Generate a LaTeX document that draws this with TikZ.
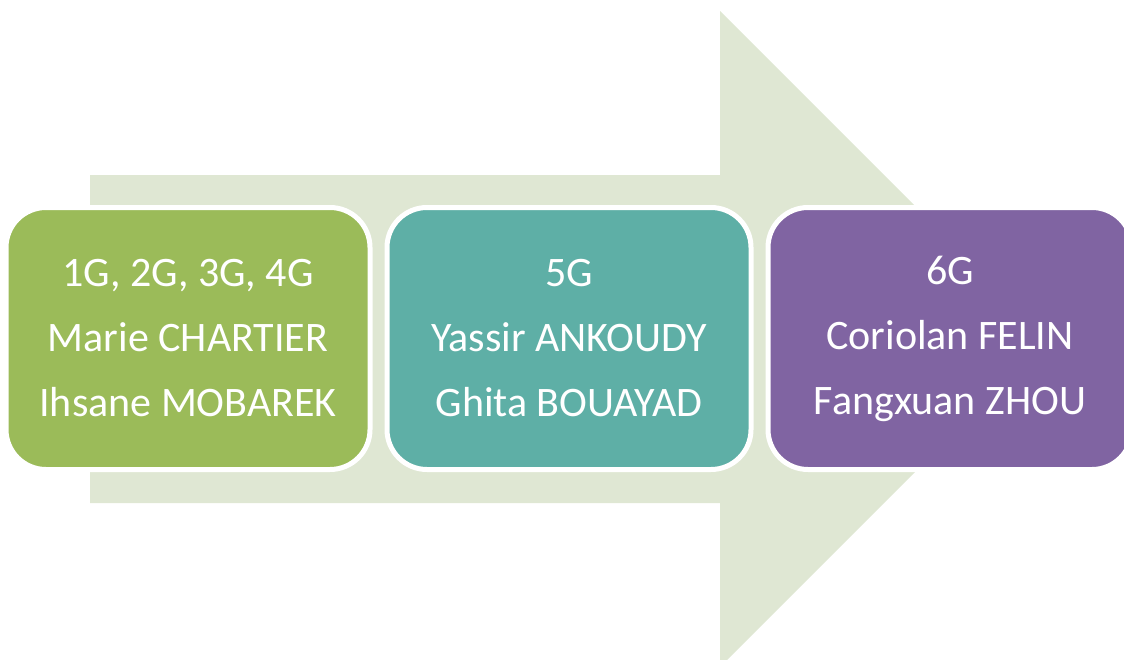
\documentclass[tikz,border=0pt]{standalone}
\usepackage{fontspec}
\setmainfont{Carlito}
\usetikzlibrary{positioning}
\definecolor{arrowbg}{HTML}{DFE7D3}
\definecolor{gengreen}{HTML}{9BBB59}
\definecolor{genteal}{HTML}{5EAFA6}
\definecolor{genpurple}{HTML}{8064A2}

\begin{document}
\begin{tikzpicture}[x=1pt, y=-1pt,
  every node/.style={font=\fontsize{42}{65}\selectfont},
  gen/.style={draw=white, line width=5pt, rounded corners=40pt, outer sep=0pt,
    minimum width=364pt, minimum height=262pt, align=center, text=white}]
\useasboundingbox (0,0) rectangle (1124,659);
\clip (0,0) rectangle (1124,659);
% background arrow
\fill[arrowbg] (90,175) -- (720,175) -- (720,11) -- (1048,339)
  -- (720,667) -- (720,503) -- (90,503) -- cycle;
\node[gen, fill=gengreen] (gen14) at (188,338.5) {1G, 2G, 3G, 4G\\Marie CHARTIER\\Ihsane MOBAREK};
\node[gen, fill=genteal, right=17pt of gen14] (gen5) {5G\\Yassir ANKOUDY\\Ghita BOUAYAD};
\node[gen, fill=genpurple, right=17pt of gen5] (gen6) {6G\\Coriolan FELIN\\Fangxuan ZHOU};
\end{tikzpicture}
\end{document}
